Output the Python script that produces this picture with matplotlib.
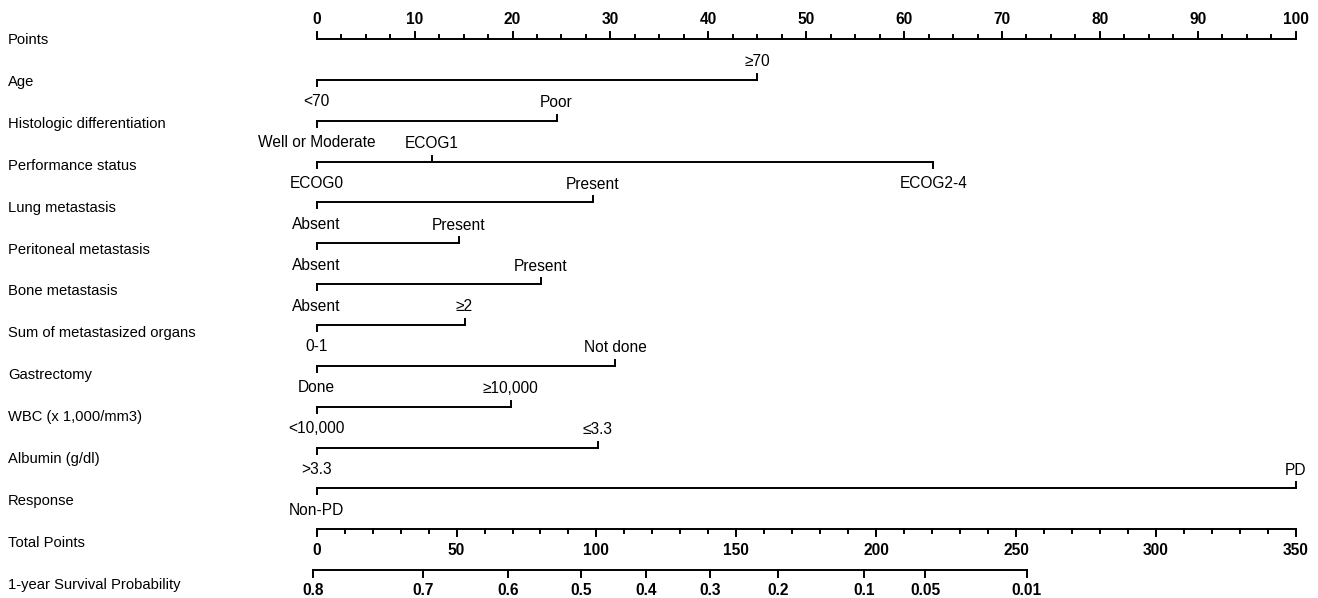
import matplotlib.pyplot as plt

plt.rcParams['font.family'] = ['Liberation Sans', 'DejaVu Sans']

# row titles (left column)
row_names = ["Points", "Age", "Histologic differentiation", "Performance status",
             "Lung metastasis", "Peritoneal metastasis", "Bone metastasis",
             "Sum of metastasized organs", "Gastrectomy", "WBC (x 1,000/mm3)",
             "Albumin (g/dl)", "Response", "Total Points", "1-year Survival Probability"]

# points scale
points_major = [0, 10, 20, 30, 40, 50, 60, 70, 80, 90, 100]
points_minor = [x * 2.5 for x in range(41)]

# predictors: level labels and the points they score
age_levels = ["<70", "≥70"]
age_points = [0, 45.0]
hist_levels = ["Well or Moderate", "Poor"]
hist_points = [0, 24.5]
ps_levels = ["ECOG0", "ECOG1", "ECOG2-4"]
ps_points = [0, 11.75, 63.0]
lung_levels = ["Absent", "Present"]
lung_points = [0, 28.2]
perit_levels = ["Absent", "Present"]
perit_points = [0, 14.5]
bone_levels = ["Absent", "Present"]
bone_points = [0, 22.9]
sum_levels = ["0-1", "≥2"]
sum_points = [0, 15.1]
gast_levels = ["Done", "Not done"]
gast_points = [0, 30.5]
wbc_levels = ["<10,000", "≥10,000"]
wbc_points = [0, 19.8]
alb_levels = [">3.3", "≤3.3"]
alb_points = [0, 28.7]
resp_levels = ["Non-PD", "PD"]
resp_points = [0, 100]

# total points scale
total_major = [0, 50, 100, 150, 200, 250, 300, 350]
total_minor = list(range(0, 351, 10))
total_max = 350

# survival probability scale (position given in total points)
surv_probs = ["0.8", "0.7", "0.6", "0.5", "0.4", "0.3", "0.2", "0.1", "0.05", "0.01"]
surv_total = [-1.4, 38.1, 68.5, 94.5, 117.6, 140.6, 164.9, 195.8, 217.5, 253.8]

predictors = [(age_levels, age_points), (hist_levels, hist_points),
              (ps_levels, ps_points), (lung_levels, lung_points),
              (perit_levels, perit_points), (bone_levels, bone_points),
              (sum_levels, sum_points), (gast_levels, gast_points),
              (wbc_levels, wbc_points), (alb_levels, alb_points),
              (resp_levels, resp_points)]

W, H = 1318, 598
x0_px, px_per_pt = 316.7, 9.79

fig = plt.figure(figsize=(W / 100, H / 100), dpi=100)
ax = fig.add_axes([0, 0, 1, 1])
ax.set_xlim(-x0_px / px_per_pt, (W - x0_px) / px_per_pt)
ax.set_ylim(H, 0)
ax.axis('off')

lw = 1.4
fs_row = 10.6
fs_lvl = 11.2
fs_num = 11.2
line_y = [39 + i * 40.85 for i in range(14)]
label_y = [40 + i * 41.9 for i in range(14)]
left_x = (8 - x0_px) / px_per_pt

for i, name in enumerate(row_names):
    ax.text(left_x, label_y[i], name, fontsize=fs_row, ha='left', va='center')

# points axis
y = line_y[0]
ax.plot([points_major[0], points_major[-1]], [y, y], color='black', lw=lw)
for p in points_minor:
    ax.plot([p, p], [y, y - 4], color='black', lw=lw)
for p in points_major:
    ax.plot([p, p], [y, y - 7], color='black', lw=lw)
    ax.text(p, y - 19, str(p), fontsize=fs_num, fontweight='bold', ha='center', va='center')

# predictor rows
for r, (levels, pts) in enumerate(predictors):
    y = line_y[r + 1]
    ax.plot([min(pts), max(pts)], [y, y], color='black', lw=lw)
    for k, (lab, p) in enumerate(zip(levels, pts)):
        if k % 2 == 0:
            ax.plot([p, p], [y, y + 6], color='black', lw=lw)
            ax.text(p, y + 22, lab, fontsize=fs_lvl, ha='center', va='center')
        else:
            ax.plot([p, p], [y, y - 6], color='black', lw=lw)
            ax.text(p, y - 18, lab, fontsize=fs_lvl, ha='center', va='center')

# total points axis
scale = 100 / total_max
y = line_y[12]
ax.plot([0, total_max * scale], [y, y], color='black', lw=lw)
for t in total_minor:
    ax.plot([t * scale, t * scale], [y, y + 4], color='black', lw=lw)
for t in total_major:
    ax.plot([t * scale, t * scale], [y, y + 7], color='black', lw=lw)
    ax.text(t * scale, y + 21, str(t), fontsize=fs_num, fontweight='bold', ha='center', va='center')

# survival probability axis
y = line_y[13]
ax.plot([surv_total[0] * scale, surv_total[-1] * scale], [y, y], color='black', lw=lw)
for lab, t in zip(surv_probs, surv_total):
    ax.plot([t * scale, t * scale], [y, y + 7], color='black', lw=lw)
    ax.text(t * scale, y + 20, lab, fontsize=fs_num, fontweight='bold', ha='center', va='center')

fig.savefig('out.png', dpi=100)
